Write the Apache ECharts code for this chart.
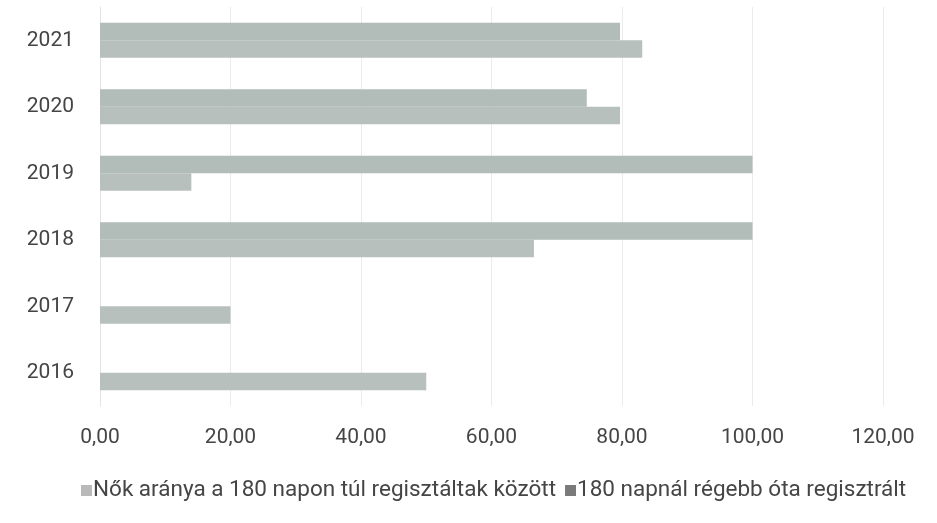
<!DOCTYPE html>
<html>
<head>
<meta charset="utf-8">
<script src="https://cdn.jsdelivr.net/npm/echarts@6/dist/echarts.min.js"></script>
<style>
  html, body { margin: 0; padding: 0; background: #fff; }
  #main { width: 937px; height: 523px; }
</style>
</head>
<body>
<div id="main"></div>
<script>
// évek (alulról felfelé)
var years = ['2016', '2017', '2018', '2019', '2020', '2021'];
// Nők aránya a 180 napon túl regisztráltak között
var nokAranya = [50, 20, 66.5, 14, 79.7, 83.1];
// 180 napnál régebb óta regisztrált
var regebbOta = ['-', '-', 100, 100, 74.6, 79.7];
var seriesNames = ['Nők aránya a 180 napon túl regisztáltak között', '180 napnál régebb óta regisztrált'];

var chartDom = document.getElementById('main');
var myChart = echarts.init(chartDom);
var font = 'Roboto';
var option = {
  animation: false,
  textStyle: { fontFamily: font },
  grid: { left: 100, right: 54, top: 7, bottom: 117 },
  legend: {
    bottom: 16,
    left: 76,
    icon: 'rect',
    itemWidth: 11,
    itemHeight: 11,
    itemGap: 9,
    textStyle: { fontFamily: font, fontSize: 22.5, color: '#454545', padding: [0, 0, 0, -4] },
    data: [
      { name: seriesNames[0], itemStyle: { color: '#b9b9b9' } },
      { name: seriesNames[1], itemStyle: { color: '#7a7a7a' } }
    ]
  },
  xAxis: {
    type: 'value',
    min: 0,
    max: 120,
    interval: 20,
    axisLine: { show: false },
    axisTick: { show: false },
    axisLabel: {
      margin: 21,
      fontSize: 21,
      color: '#454545',
      formatter: function (v) { return v.toFixed(2).replace('.', ','); }
    },
    splitLine: { lineStyle: { color: '#ebebeb' } }
  },
  yAxis: {
    type: 'category',
    data: years,
    axisLine: { show: true, lineStyle: { color: '#e4e4e4' } },
    axisTick: { show: false },
    axisLabel: { margin: 26, fontSize: 21, color: '#454545' }
  },
  // ECharts puts the first series on top in a horizontal group, so the upper bar comes first
  series: [
    {
      name: seriesNames[1],
      type: 'bar',
      data: regebbOta,
      barGap: '0%',
      barCategoryGap: '47%',
      itemStyle: { color: '#b2bcb8' }
    },
    {
      name: seriesNames[0],
      type: 'bar',
      data: nokAranya,
      barGap: '0%',
      barCategoryGap: '47%',
      itemStyle: { color: '#b8c0bd' }
    }
  ]
};
option && myChart.setOption(option);
</script>
</body>
</html>
